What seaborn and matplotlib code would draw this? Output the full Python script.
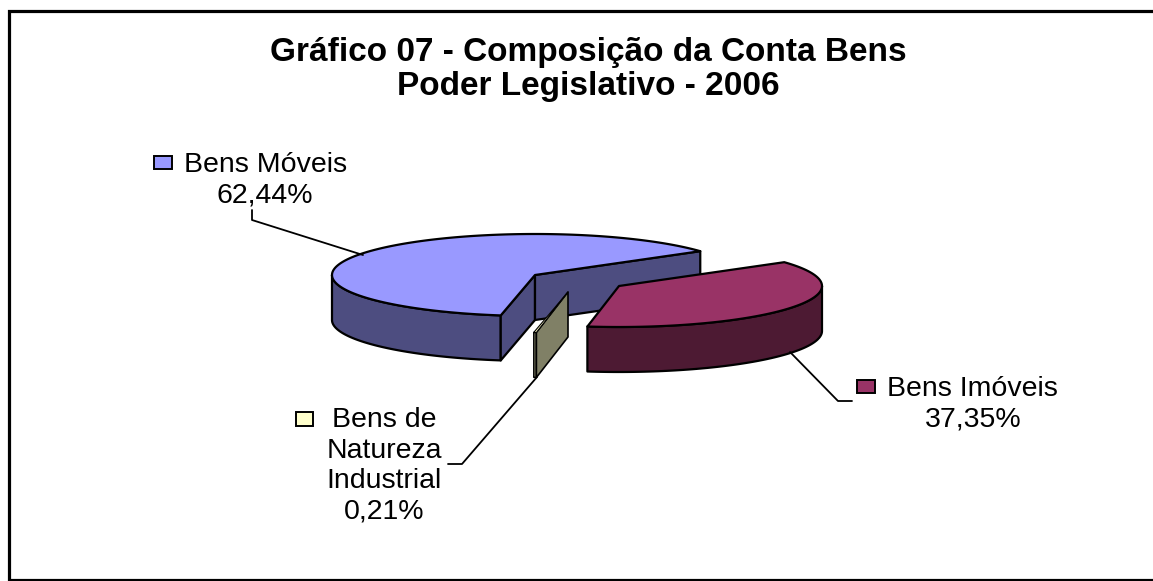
"""Composicao da Conta Bens - 3D look pie chart."""

import numpy as np
import matplotlib
matplotlib.use("Agg")
import matplotlib.pyplot as plt
import seaborn as sns

title_lines = ["Gráfico 07 - Composição da Conta Bens", "Poder Legislativo - 2006"]
categories = ["Bens Imóveis", "Bens de Natureza Industrial", "Bens Móveis"]
shares = [37.35, 0.21, 62.44]
top_colors = ["#993366", "#FFFFCC", "#9999FF"]
wall_colors = ["#4D1A33", "#808066", "#4D4D80"]

sns.set_theme(style="white")
plt.rcParams["font.family"] = ["Liberation Sans", "DejaVu Sans"]

# ellipse geometry, in picture pixels
RX, RY, DEPTH = 203, 41, 45
START = 35.5
centers = [(619, 286), (568, 292), (535, 275)]


def arc(cx, cy, a0, a1, n=80):
    t = np.radians(np.linspace(a0, a1, n))
    return cx + RX * np.cos(t), cy - RY * np.sin(t)


def face(ax, xs, ys, color, lw=1.6):
    ax.fill(xs, ys, facecolor=color, edgecolor="black", lw=lw, joinstyle="round")


fig = plt.figure(figsize=(11.53, 5.81), dpi=100)
ax = fig.add_axes([0, 0, 1, 1])
ax.set_xlim(0, 1153)
ax.set_ylim(581, 0)
ax.axis("off")

# frame has no right side
ax.plot([1153, 9, 9, 1153], [10.5, 10.5, 580, 580], color="black", lw=2.3, solid_joinstyle="miter")

# slice angles come from the shares, clockwise from START
ends = START - np.cumsum(shares) * 3.6
starts = np.r_[START, ends[:-1]]

# Bens Moveis
cx, cy = centers[2]
a0, a1 = starts[2], ends[2]
x, y = arc(cx, cy, a0, -180)
face(ax, np.r_[x, x[::-1]], np.r_[y, y[::-1] + DEPTH], wall_colors[2])
x0, y0 = arc(cx, cy, a0, a0, 1)
face(ax, [cx, x0[0], x0[0], cx], [cy, y0[0], y0[0] + DEPTH, cy + DEPTH], wall_colors[2])
x1, y1 = arc(cx, cy, a1, a1, 1)
face(ax, [cx, x1[0], x1[0], cx], [cy, y1[0], y1[0] + DEPTH, cy + DEPTH], wall_colors[2])
x, y = arc(cx, cy, a0, a1, 160)
face(ax, np.r_[cx, x], np.r_[cy, y], top_colors[2])

# Bens de Natureza Industrial, thin sliver
cx, cy = centers[1]
a0, a1 = starts[1], ends[1]
x, y = arc(cx, cy, a0, a1, 4)
face(ax, np.r_[x, x[::-1]], np.r_[y, y[::-1] + DEPTH], wall_colors[1], lw=1.0)
face(ax, [cx, x[0], x[0], cx], [cy, y[0], y[0] + DEPTH, cy + DEPTH], wall_colors[1], lw=1.2)
face(ax, np.r_[cx, x], np.r_[cy, y], top_colors[1], lw=0.8)

# Bens Imoveis
cx, cy = centers[0]
a0, a1 = starts[0], ends[0]
x, y = arc(cx, cy, 0, a1)
face(ax, np.r_[x, x[::-1]], np.r_[y, y[::-1] + DEPTH], wall_colors[0])
x, y = arc(cx, cy, a0, a1, 120)
face(ax, np.r_[cx, x], np.r_[cy, y], top_colors[0])

# leader lines
ax.plot([252, 252, 363], [210, 220, 255], color="black", lw=1.3)
ax.plot([790, 838, 852], [352, 401, 401], color="black", lw=1.3)
ax.plot([448, 462, 537], [464, 464, 377], color="black", lw=1.3)

# titles
for line, ty in zip(title_lines, [53, 87]):
    ax.text(588, ty, line, ha="center", va="center", fontsize=24, fontweight="bold", color="black")


def pct(v):
    return f"{v:.2f}%".replace(".", ",")


LABEL_SIZE = 20.5
ax.text(266, 165, categories[2], ha="center", va="center", fontsize=LABEL_SIZE, color="black")
ax.text(265, 195, pct(shares[2]), ha="center", va="center", fontsize=LABEL_SIZE, color="black")
ax.text(972, 389, categories[0], ha="center", va="center", fontsize=LABEL_SIZE, color="black")
ax.text(973, 419, pct(shares[0]), ha="center", va="center", fontsize=LABEL_SIZE, color="black")
for line, ty in zip(["Bens de", "Natureza", "Industrial", pct(shares[1])], [420, 451, 481, 511]):
    ax.text(384, ty, line, ha="center", va="center", fontsize=LABEL_SIZE, color="black")

# legend keys next to the labels
for (kx, ky, kw, kh), color in zip([(857, 380, 18, 13), (296, 412, 17, 14), (154, 156, 18, 13)], top_colors):
    ax.add_patch(plt.Rectangle((kx, ky), kw, kh, facecolor=color, edgecolor="black", lw=1.4))

fig.savefig("out.png", dpi=100, facecolor="white")
plt.close(fig)
